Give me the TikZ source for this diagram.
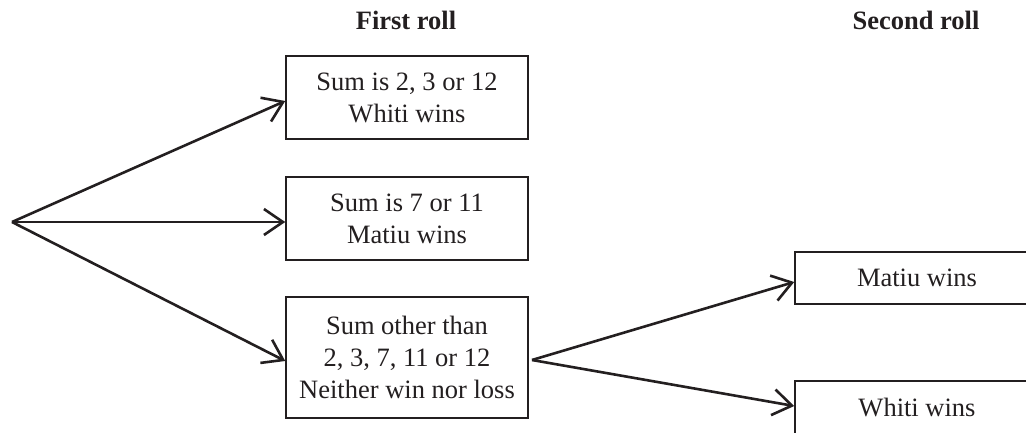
\documentclass[tikz,border=0pt]{standalone}
\usepackage{fontspec}
\setmainfont{Liberation Serif}
\usetikzlibrary{arrows.meta}
\definecolor{ink}{HTML}{231F20}
\begin{document}
\begin{tikzpicture}[x=1pt,y=-1pt,
  every node/.style={text=ink,font=\fontsize{26.5}{32}\selectfont},
  outcome/.style={draw=ink,line width=1.5pt,align=center,inner sep=0pt,
    minimum width=242pt,minimum height=83pt},
  outcomebig/.style={outcome,minimum height=121pt},
  result/.style={draw=ink,line width=1.5pt,inner sep=0pt,
    minimum width=244pt,minimum height=52pt},
  heading/.style={font=\fontsize{26.5}{32}\selectfont\bfseries,anchor=base},
  branch/.style={draw=ink,line width=2.6pt,-{Straight Barb[length=19pt,width=26pt,line width=2.6pt]}}
]
\useasboundingbox (0,0) rectangle (1026,432);
\clip (0,0) rectangle (1026,432);
\node[heading] (t1) at (406,29) {First roll};
\node[heading] (t2) at (916,29) {Second roll};
\node[outcome] (b1) at (407,97.5) {Sum is 2, 3 or 12\\Whiti wins};
\node[outcome] (b2) at (407,218.5) {Sum is 7 or 11\\Matiu wins};
\node[outcomebig] (b3) at (407,357.5) {Sum other than\\2, 3, 7, 11 or 12\\Neither win nor loss};
\node[result] (r1) at (917,278) {Matiu wins};
\node[result,minimum height=56pt] (r2) at (917,409) {\raisebox{3pt}{Whiti wins}};
\coordinate (o) at (12,222);
\coordinate (o2) at (532,360);
\draw[branch] (o) -- ([yshift=-3.5pt]b1.west);
\draw[branch] (o) -- ([yshift=-3.5pt]b2.west);
\draw[branch] (o) -- ([yshift=-3.5pt]b3.west);
\draw[branch] (o2) -- ([yshift=-4pt]r1.west);
\draw[branch] (o2) -- ([yshift=3pt]r2.west);
\end{tikzpicture}
\end{document}
